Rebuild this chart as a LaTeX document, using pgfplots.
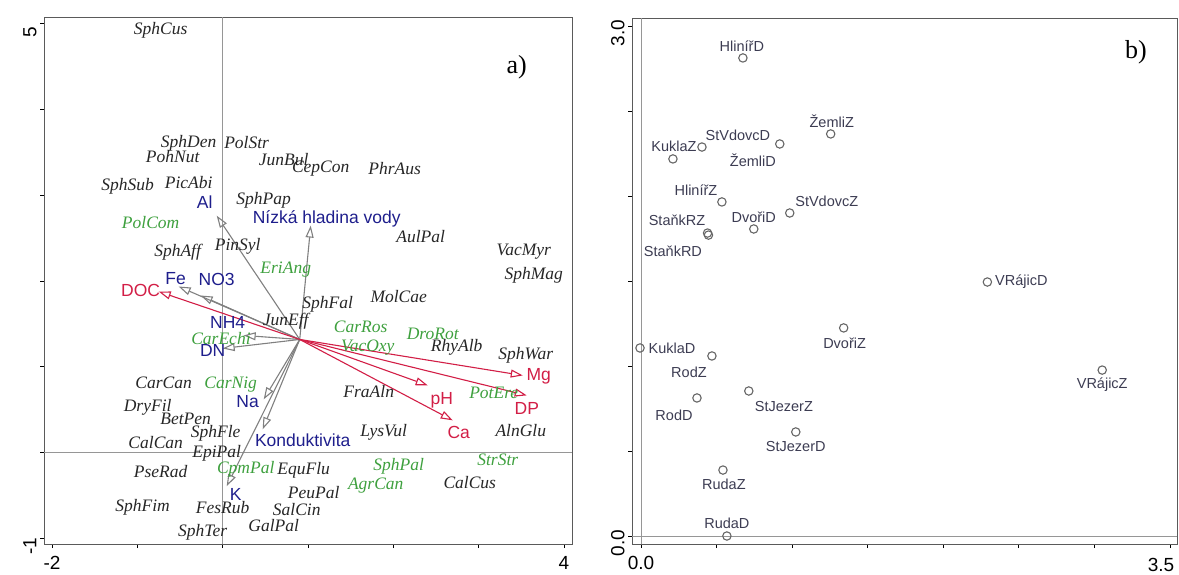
\documentclass[border=0pt]{standalone}
\usepackage{fontspec}
\setmainfont{Liberation Serif}
\setsansfont{Liberation Sans}
\usepackage{pgfplots}
\pgfplotsset{compat=1.18}
\usetikzlibrary{arrows.meta}
\definecolor{spk}{RGB}{38,38,38}
\definecolor{spg}{RGB}{62,160,62}
\definecolor{envb}{RGB}{30,30,140}
\definecolor{envr}{RGB}{210,30,70}
\definecolor{arrg}{RGB}{128,128,128}
\definecolor{lblb}{RGB}{60,60,82}
\definecolor{frame}{RGB}{90,90,90}
\definecolor{refl}{RGB}{150,150,150}
\begin{document}
\begin{tikzpicture}[
  sp/.style={font=\fontsize{17.5}{18}\selectfont\itshape, text=spk, inner sep=0pt},
  sg/.style={font=\fontsize{17.5}{18}\selectfont\itshape, text=spg, inner sep=0pt},
  eb/.style={font=\fontsize{17.5}{18}\selectfont\sffamily, text=envb, inner sep=0pt},
  er/.style={font=\fontsize{17.5}{18}\selectfont\sffamily, text=envr, inner sep=0pt},
  lb/.style={font=\fontsize{14.5}{15}\selectfont\sffamily, text=lblb, inner sep=0pt},
  ga/.style={draw=arrg, line width=1.1pt, -{Triangle[open,length=12pt,width=8pt]}},
  ra/.style={draw=envr, line width=1.1pt, -{Triangle[open,length=12pt,width=8pt]}}]
\path (0pt,0pt) rectangle (1179pt,574pt);
% ---------------- panel a ----------------
\begin{axis}[
  at={(44pt,30pt)}, anchor=south west, scale only axis,
  width=528pt, height=527pt,
  xmin=-2.094, xmax=4.094, ymin=-1.07, ymax=5.08,
  xtick={-2,-1,0,1,2,3,4}, xticklabels={-2,,,,,,4},
  ytick={-1,0,1,2,3,4,5}, yticklabels={-1,,,,,,5},
  xtick pos=left, ytick pos=left,
  tick align=outside, major tick length=4pt,
  tick style={line width=0.8pt, black},
  axis line style={draw=frame, line width=0.9pt},
  ticklabel style={font=\fontsize{19}{19}\sffamily},
  xticklabel style={yshift=-5pt},
  yticklabel style={rotate=90, anchor=south, xshift=-8pt},
  clip=false]
\addplot[draw=refl, line width=0.8pt] coordinates {(0,-1.07) (0,5.08)};
\addplot[draw=refl, line width=0.8pt] coordinates {(-2.094,0) (4.094,0)};
% gray arrows
\addplot[ga] coordinates {(0.903,1.317) (-0.070,2.762)};
\addplot[ga] coordinates {(0.903,1.317) (1.032,2.646)};
\addplot[ga] coordinates {(0.903,1.317) (-0.516,1.935)};
\addplot[ga] coordinates {(0.903,1.317) (-0.258,1.830)};
\addplot[ga] coordinates {(0.903,1.317) (0.246,1.364)};
\addplot[ga] coordinates {(0.903,1.317) (0.000,1.212)};
\addplot[ga] coordinates {(0.903,1.317) (0.481,0.618)};
\addplot[ga] coordinates {(0.903,1.317) (0.469,0.268)};
\addplot[ga] coordinates {(0.903,1.317) (0.047,-0.396)};
% red arrows
\addplot[ra] coordinates {(0.903,1.317) (-0.750,1.876)};
\addplot[ra] coordinates {(0.903,1.317) (3.517,0.897)};
\addplot[ra] coordinates {(0.903,1.317) (3.564,0.664)};
\addplot[ra] coordinates {(0.903,1.317) (2.403,0.781)};
\addplot[ra] coordinates {(0.903,1.317) (2.696,0.373)};
% black species
\node[sp] at (axis cs:-0.727,4.930) {SphCus};
\node[sp] at (axis cs:-0.399,3.601) {SphDen};
\node[sp] at (axis cs:0.281,3.613) {PolStr};
\node[sp] at (axis cs:-0.586,3.450) {PohNut};
\node[sp] at (axis cs:0.715,3.415) {JunBul};
\node[sp] at (axis cs:1.149,3.310) {CepCon};
\node[sp] at (axis cs:2.016,3.310) {PhrAus};
\node[sp] at (axis cs:-1.114,3.100) {SphSub};
\node[sp] at (axis cs:-0.399,3.147) {PicAbi};
\node[sp] at (axis cs:0.481,2.937) {SphPap};
\node[sp] at (axis cs:2.321,2.517) {AulPal};
\node[sp] at (axis cs:3.529,2.343) {VacMyr};
\node[sp] at (axis cs:3.646,2.063) {SphMag};
\node[sp] at (axis cs:-0.528,2.331) {SphAff};
\node[sp] at (axis cs:0.176,2.401) {PinSyl};
\node[sp] at (axis cs:1.231,1.725) {SphFal};
\node[sp] at (axis cs:2.063,1.818) {MolCae};
\node[sp] at (axis cs:0.739,1.527) {JunEff};
\node[sp] at (axis cs:2.743,1.224) {RhyAlb};
\node[sp] at (axis cs:3.552,1.131) {SphWar};
\node[sp] at (axis cs:-0.692,0.816) {CarCan};
\node[sp] at (axis cs:-0.879,0.524) {DryFil};
\node[sp] at (axis cs:-0.434,0.396) {BetPen};
\node[sp] at (axis cs:1.712,0.711) {FraAln};
\node[sp] at (axis cs:-0.082,0.221) {SphFle};
\node[sp] at (axis cs:-0.785,0.117) {CalCan};
\node[sp] at (axis cs:1.887,0.233) {LysVul};
\node[sp] at (axis cs:3.494,0.256) {AlnGlu};
\node[sp] at (axis cs:-0.070,-0.012) {EpiPal};
\node[sp] at (axis cs:-0.727,-0.221) {PseRad};
\node[sp] at (axis cs:0.950,-0.210) {EquFlu};
\node[sp] at (axis cs:1.067,-0.466) {PeuPal};
\node[sp] at (axis cs:2.896,-0.350) {CalCus};
\node[sp] at (axis cs:-0.938,-0.641) {SphFim};
\node[sp] at (axis cs:0.000,-0.641) {FesRub};
\node[sp] at (axis cs:0.868,-0.664) {SalCin};
\node[sp] at (axis cs:0.598,-0.851) {GalPal};
\node[sp] at (axis cs:-0.234,-0.932) {SphTer};
% green species
\node[sg] at (axis cs:-0.844,2.681) {PolCom};
\node[sg] at (axis cs:0.739,2.133) {EriAng};
\node[sg] at (axis cs:1.618,1.469) {CarRos};
\node[sg] at (axis cs:2.462,1.387) {DroRot};
\node[sg] at (axis cs:1.700,1.224) {VacOxy};
\node[sg] at (axis cs:-0.020,1.329) {CarEchi};
\node[sg] at (axis cs:0.094,0.793) {CarNig};
\node[sg] at (axis cs:3.177,0.699) {PotEre};
\node[sg] at (axis cs:0.270,-0.198) {CpmPal};
\node[sg] at (axis cs:2.063,-0.163) {SphPal};
\node[sg] at (axis cs:1.794,-0.385) {AgrCan};
\node[sg] at (axis cs:3.224,-0.093) {StrStr};
% environmental labels
\node[eb] at (axis cs:-0.211,2.925) {Al};
\node[eb] at (axis cs:1.219,2.727) {Nízká hladina vody};
\node[eb] at (axis cs:-0.551,2.028) {Fe};
\node[eb] at (axis cs:-0.070,2.016) {NO3};
\node[eb] at (axis cs:0.059,1.515) {NH4};
\node[eb] at (axis cs:-0.117,1.189) {DN};
\node[eb] at (axis cs:0.293,0.594) {Na};
\node[eb] at (axis cs:0.938,0.140) {Konduktivita};
\node[eb] at (axis cs:0.152,-0.490) {K};
\node[er] at (axis cs:-0.961,1.888) {DOC};
\node[er] at (axis cs:3.705,0.886) {Mg};
\node[er] at (axis cs:3.564,0.513) {DP};
\node[er] at (axis cs:2.567,0.606) {pH};
\node[er] at (axis cs:2.767,0.233) {Ca};
\node[font=\fontsize{26}{26}\selectfont, inner sep=0pt] at (axis cs:3.447,4.499) {a)};
\end{axis}
% ---------------- panel b ----------------
\begin{axis}[
  at={(632pt,30pt)}, anchor=south west, scale only axis,
  width=545pt, height=526pt,
  xmin=-0.06, xmax=3.547, ymin=-0.047, ymax=3.047,
  xtick={0,0.5,1,1.5,2,2.5,3,3.5}, xticklabels={0.0,,,,,,,},
  ytick={0,0.5,1,1.5,2,2.5,3}, yticklabels={0.0,,,,,,3.0},
  xtick pos=left, ytick pos=left,
  tick align=outside, major tick length=4pt,
  tick style={line width=0.8pt, black},
  axis line style={draw=frame, line width=0.9pt},
  ticklabel style={font=\fontsize{19}{19}\sffamily},
  xticklabel style={yshift=-5pt},
  yticklabel style={rotate=90, anchor=south, xshift=-7pt},
  clip=false]
\addplot[draw=refl, line width=0.8pt] coordinates {(0,-0.047) (0,3.047)};
\addplot[draw=refl, line width=0.8pt] coordinates {(-0.06,0) (3.547,0)};
\addplot[only marks, mark=o, mark size=4.2pt, mark options={draw=gray!80!black, line width=1.1pt}] coordinates {
(0.674,2.812) (1.255,2.365) (0.918,2.306) (0.403,2.288) (0.211,2.218)
(0.535,1.965) (0.984,1.900) (0.746,1.806) (0.440,1.782) (0.446,1.770)
(2.292,1.494) (1.341,1.224) (-0.007,1.106) (0.469,1.059) (0.370,0.812)
(0.713,0.853) (1.024,0.612) (0.542,0.388) (0.568,0.000) (3.052,0.976)};
\node[lb] at (axis cs:0.667,2.882) {HlinířD};
\node[lb] at (axis cs:1.262,2.441) {ŽemliZ};
\node[lb] at (axis cs:0.641,2.359) {StVdovcD};
\node[lb] at (axis cs:0.218,2.294) {KuklaZ};
\node[lb] at (axis cs:0.740,2.212) {ŽemliD};
\node[lb] at (axis cs:0.363,2.035) {HlinířZ};
\node[lb] at (axis cs:1.229,1.971) {StVdovcZ};
\node[lb] at (axis cs:0.746,1.876) {DvořiD};
\node[lb] at (axis cs:0.238,1.859) {StaňkRZ};
\node[lb] at (axis cs:0.211,1.676) {StaňkRD};
\node[lb] at (axis cs:2.517,1.494) {VRájicD};
\node[lb] at (axis cs:1.347,1.135) {DvořiZ};
\node[lb] at (axis cs:0.205,1.106) {KuklaD};
\node[lb] at (axis cs:0.317,0.965) {RodZ};
\node[lb] at (axis cs:0.218,0.712) {RodD};
\node[lb] at (axis cs:0.945,0.759) {StJezerZ};
\node[lb] at (axis cs:1.024,0.524) {StJezerD};
\node[lb] at (axis cs:0.548,0.306) {RudaZ};
\node[lb] at (axis cs:0.568,0.076) {RudaD};
\node[lb] at (axis cs:3.052,0.888) {VRájicZ};
\node[font=\fontsize{19}{19}\sffamily, anchor=north, inner sep=0pt] at (axis cs:3.441,-0.047) [yshift=-14pt] {3.5};
\node[font=\fontsize{26}{26}\selectfont, inner sep=0pt] at (axis cs:3.276,2.847) {b)};
\end{axis}
\end{tikzpicture}
\end{document}
